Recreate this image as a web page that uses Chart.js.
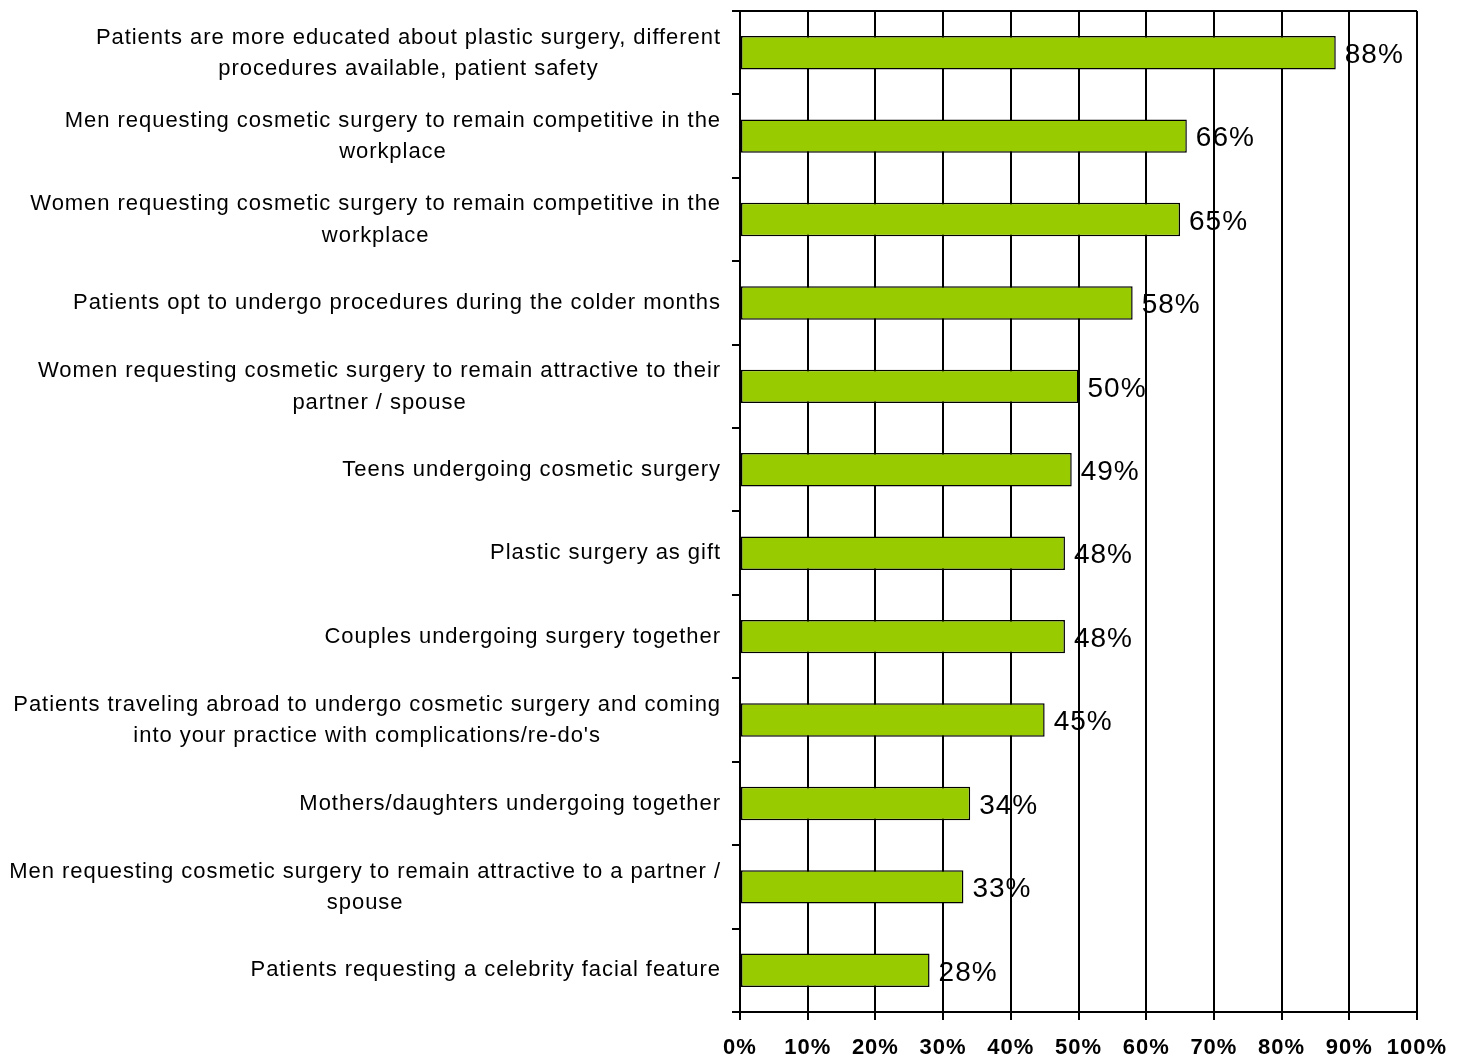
<!DOCTYPE html>
<html>
<head>
<meta charset="utf-8">
<script src="https://cdn.jsdelivr.net/npm/chart.js@4/dist/chart.umd.min.js"></script>
<style>
  html, body { margin: 0; padding: 0; background: #fff; }
  #wrap { width: 1466px; height: 1056px; }
</style>
</head>
<body>
<div id="wrap"><canvas id="c" width="1466" height="1056"></canvas></div>
<script>
const categories = [
  ["Patients are more educated about plastic surgery, different", "procedures available, patient safety"],
  ["Men requesting cosmetic surgery to remain competitive in the", "workplace"],
  ["Women requesting cosmetic surgery to remain competitive in the", "workplace"],
  ["Patients opt to undergo procedures during the colder months"],
  ["Women requesting cosmetic surgery to remain attractive to their", "partner / spouse"],
  ["Teens undergoing cosmetic surgery"],
  ["Plastic surgery as gift"],
  ["Couples undergoing surgery together"],
  ["Patients traveling abroad to undergo cosmetic surgery and coming", "into your practice with complications/re-do's"],
  ["Mothers/daughters undergoing together"],
  ["Men requesting cosmetic surgery to remain attractive to a partner /", "spouse"],
  ["Patients requesting a celebrity facial feature"]
];
const values = [88, 66, 65, 58, 50, 49, 48, 48, 45, 34, 33, 28];
const valueLabels = ["88%", "66%", "65%", "58%", "50%", "49%", "48%", "48%", "45%", "34%", "33%", "28%"];
const tickLabels = ["0%", "10%", "20%", "30%", "40%", "50%", "60%", "70%", "80%", "90%", "100%"];

const FONT = "'Liberation Sans', Arial, Helvetica, sans-serif";

const spacingPlugin = {
  id: 'spacing',
  beforeDraw(chart) { chart.ctx.letterSpacing = '1px'; }
};

const labelPlugin = {
  id: 'customLabels',
  afterDraw(chart) {
    const ctx = chart.ctx;
    const yScale = chart.scales.y;
    const area = chart.chartArea;
    ctx.save();
    // top frame line
    ctx.strokeStyle = '#000';
    ctx.lineWidth = 2;
    ctx.beginPath();
    ctx.moveTo(area.left - 8, area.top);
    ctx.lineTo(area.right, area.top);
    ctx.stroke();
    // category labels: centered block, right edge fixed
    ctx.letterSpacing = '0.95px';
    ctx.font = "22px " + FONT;
    ctx.fillStyle = '#000';
    ctx.textAlign = 'center';
    ctx.textBaseline = 'middle';
    const lh = 31.5;
    chart.data.labels.forEach((lines, i) => {
      const cy = yScale.getPixelForValue(i);
      const maxW = Math.max(...lines.map(l => ctx.measureText(l).width));
      const cx = area.left - 19 - maxW / 2;
      const y0 = cy - (lines.length - 1) * lh / 2 + (lines.length > 1 ? 0.5 : 0);
      lines.forEach((l, j) => ctx.fillText(l, cx, y0 + j * lh));
    });
    // value labels
    ctx.letterSpacing = '1px';
    ctx.font = "28px " + FONT;
    ctx.textAlign = 'left';
    const meta = chart.getDatasetMeta(0);
    meta.data.forEach((bar, i) => {
      ctx.fillText(valueLabels[i], bar.x + 9, bar.y + 2.5);
    });
    ctx.restore();
  }
};

new Chart(document.getElementById('c'), {
  type: 'bar',
  data: {
    labels: categories,
    datasets: [{
      data: values,
      backgroundColor: '#99CC00',
      borderColor: '#000',
      borderWidth: 1.5,
      borderSkipped: false,
      barPercentage: 0.4,
      categoryPercentage: 1.0
    }]
  },
  options: {
    indexAxis: 'y',
    responsive: false,
    devicePixelRatio: 1,
    animation: false,
    layout: { padding: { left: 0, top: 11, right: 49, bottom: 0 } },
    plugins: { legend: { display: false }, tooltip: { enabled: false } },
    scales: {
      x: {
        position: 'bottom',
        min: 0, max: 100,
        ticks: {
          stepSize: 10,
          color: '#000',
          font: { family: FONT, size: 22, weight: 'bold' },
          padding: 15,
          maxRotation: 0,
          autoSkip: false,
          callback: (v, i) => tickLabels[i]
        },
        grid: { color: '#000', lineWidth: 2, tickLength: 8, drawOnChartArea: true, drawTicks: true },
        border: { display: true, color: '#000', width: 2 },
        afterFit(scale) { scale.height = 44; }
      },
      y: {
        position: 'left',
        ticks: { display: false },
        grid: { color: '#000', lineWidth: 2, tickLength: 8, drawOnChartArea: false, drawTicks: true, offset: true },
        border: { display: true, color: '#000', width: 2 },
        afterFit(scale) { scale.width = 740; }
      }
    }
  },
  plugins: [spacingPlugin, labelPlugin]
});
</script>
</body>
</html>
